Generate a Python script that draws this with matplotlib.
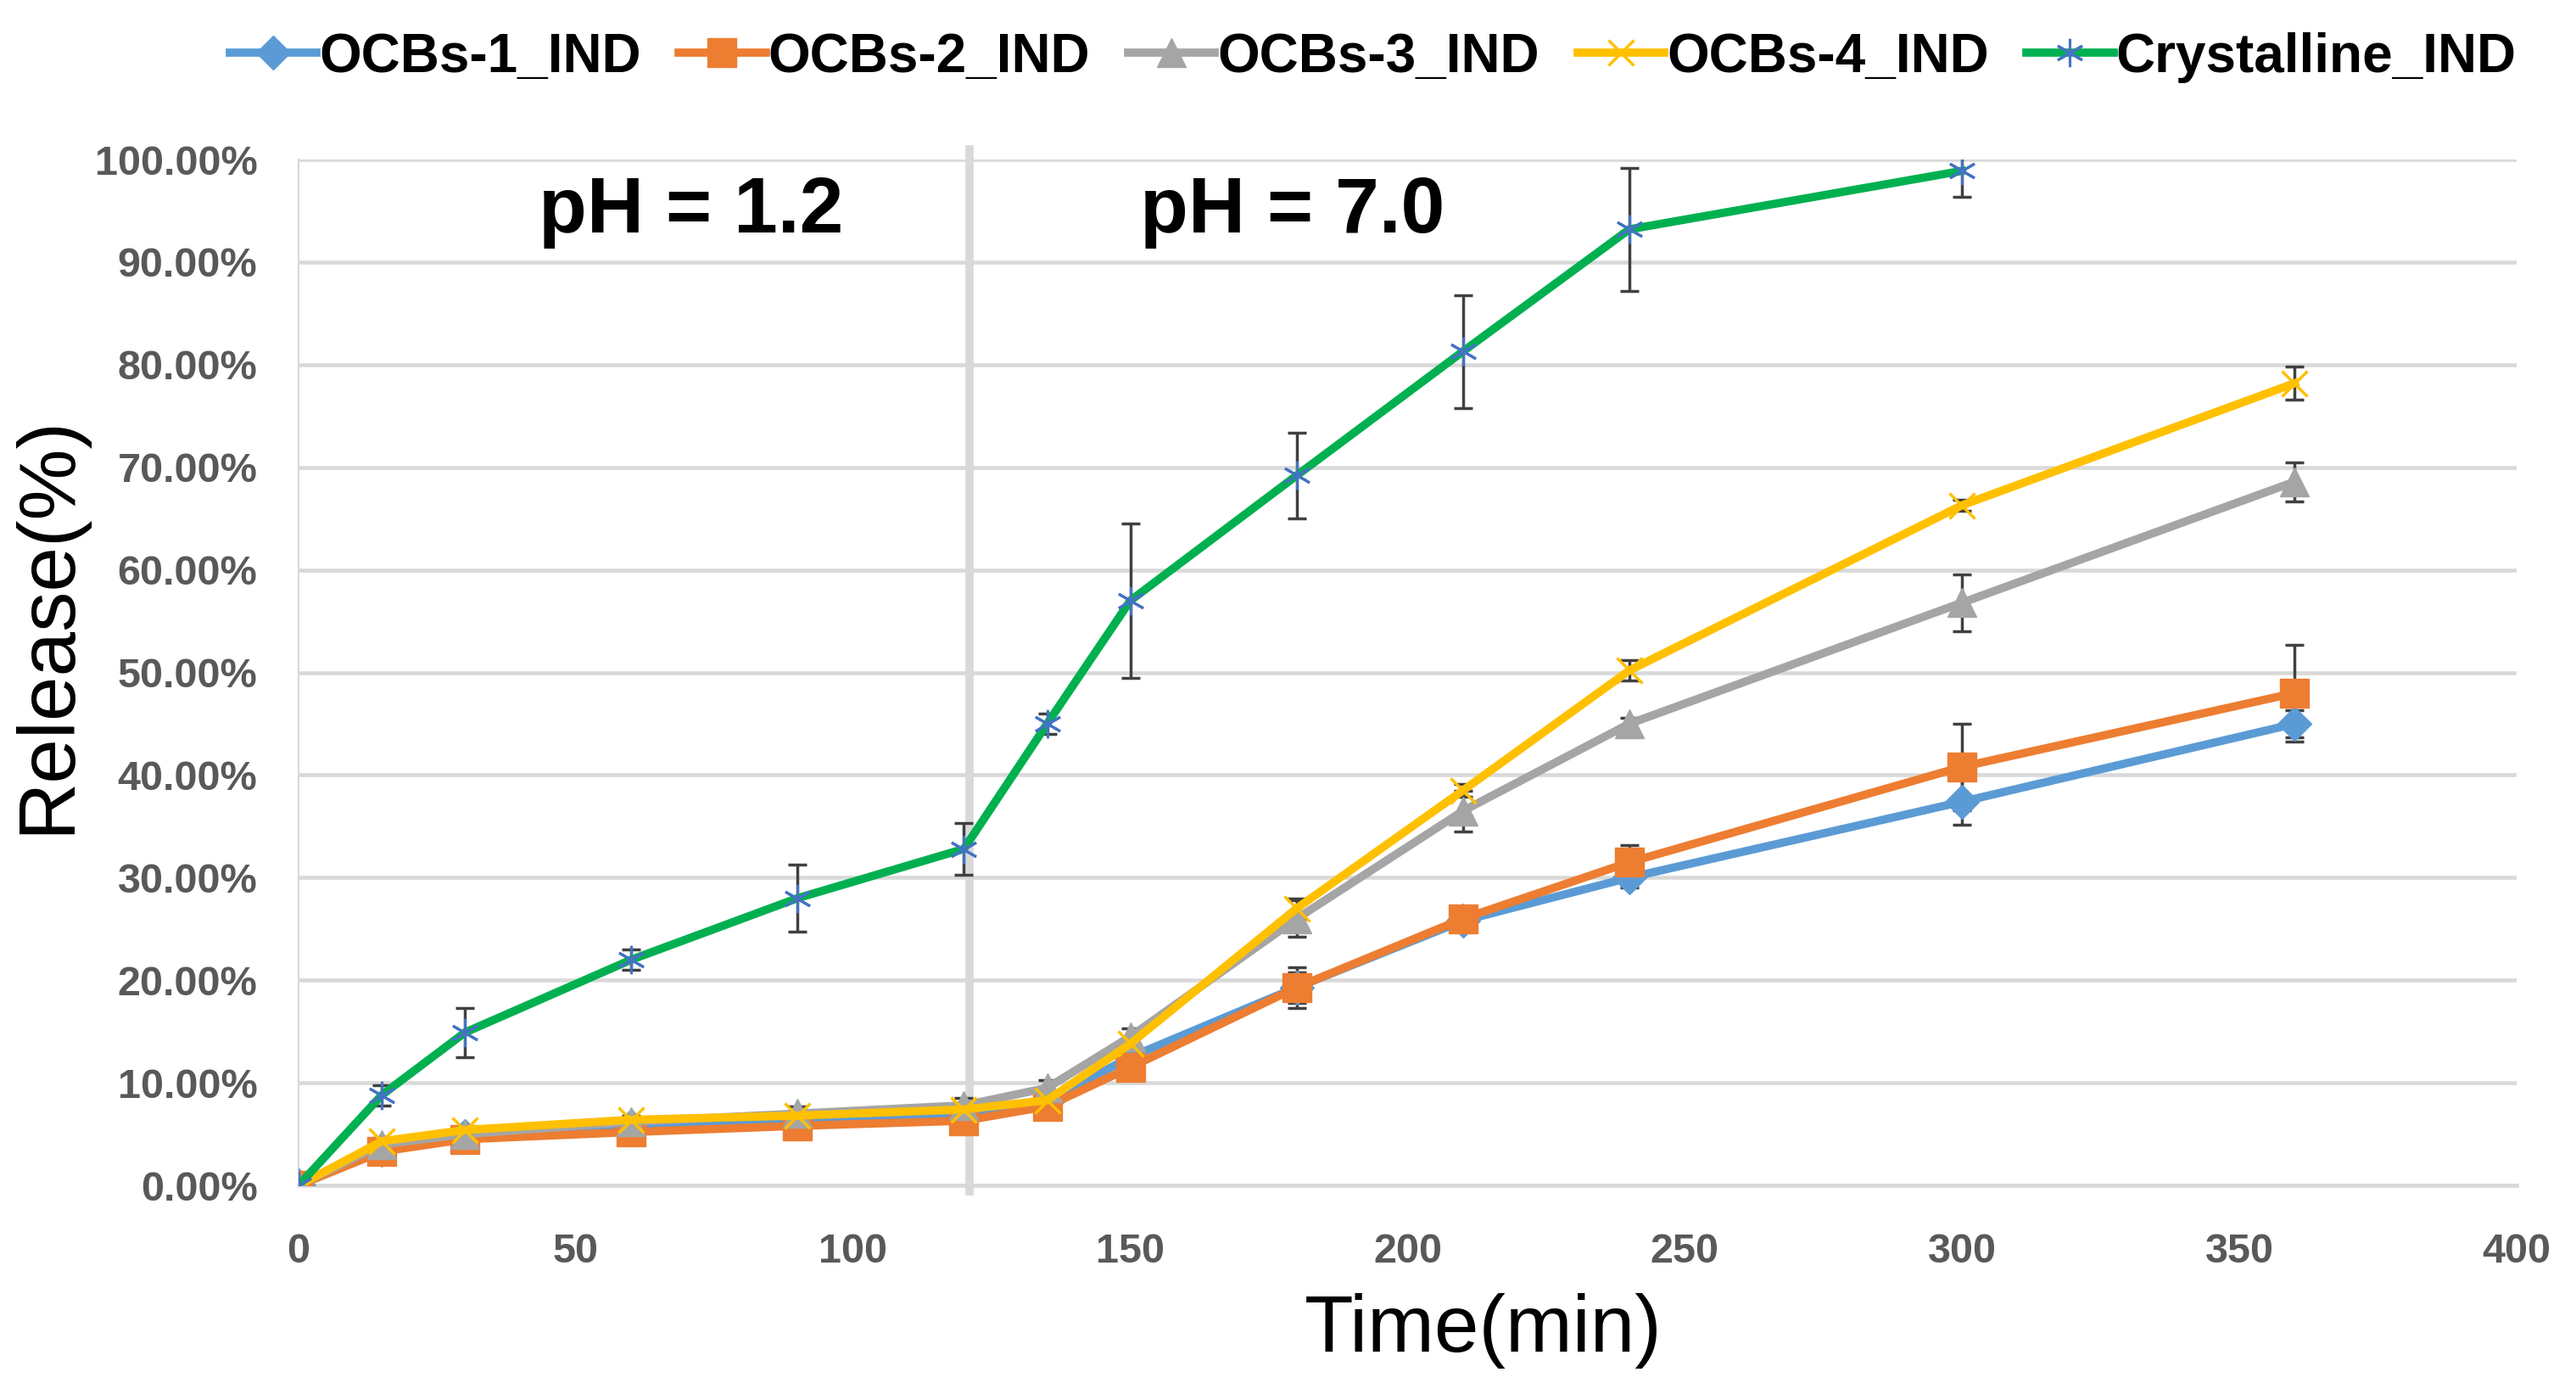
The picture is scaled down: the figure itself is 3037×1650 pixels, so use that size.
import numpy as np
import matplotlib
matplotlib.use("Agg")
import matplotlib.pyplot as plt

plt.rcParams['font.family'] = ['Liberation Sans', 'DejaVu Sans']

# sampling times (min)
time = [0, 15, 30, 60, 90, 120, 135, 150, 180, 210, 240, 300, 360]
time_cryst = [0, 15, 30, 60, 90, 120, 135, 150, 180, 210, 240, 300]

# cumulative release (%) and error bars
ocbs1 = [0, 3.5, 4.8, 5.8, 6.3, 7.0, 8.2, 12.5, 19.3, 25.8, 30.0, 37.4, 45.0]
err1 = [0, 0.2, 0.2, 0.2, 0.2, 0.2, 0.3, 0.6, 2.0, 0.8, 1.0, 2.2, 1.3]
ocbs2 = [0, 3.3, 4.5, 5.2, 5.8, 6.3, 7.7, 11.5, 19.3, 26.0, 31.5, 40.8, 48.0]
err2 = [0, 0.2, 0.2, 0.2, 0.2, 0.2, 0.3, 0.6, 1.5, 0.8, 1.7, 4.2, 4.7]
ocbs3 = [0, 4.0, 5.0, 6.2, 7.0, 7.8, 9.5, 14.5, 26.0, 36.5, 45.0, 56.8, 68.6]
err3 = [0, 0.6, 0.6, 0.6, 0.7, 0.7, 0.8, 0.8, 1.8, 2.0, 0.6, 2.8, 1.9]
ocbs4 = [0, 4.3, 5.4, 6.4, 6.8, 7.4, 8.3, 13.8, 27.0, 38.5, 50.2, 66.3, 78.2]
err4 = [0, 0.2, 0.2, 0.2, 0.2, 0.2, 0.2, 0.4, 1.0, 0.6, 1.0, 0.5, 1.6]
cryst = [0, 8.8, 14.9, 22.0, 28.0, 32.8, 45.0, 57.0, 69.2, 81.3, 93.2, 98.9]
errc = [0, 1.0, 2.4, 1.0, 3.3, 2.5, 1.0, 7.5, 4.2, 5.5, 6.0, 2.5]

xticks = [0, 50, 100, 150, 200, 250, 300, 350, 400]
yticks = [0, 10, 20, 30, 40, 50, 60, 70, 80, 90, 100]

fig = plt.figure(figsize=(30.37, 16.5), dpi=100)
ax = fig.add_axes([0.1159, 0.1533, 0.861, 0.7327])

series = [
    ("OCBs-1_IND", time, ocbs1, err1, "#5B9BD5", "#5B9BD5", "D", 20, 1),
    ("OCBs-2_IND", time, ocbs2, err2, "#ED7D31", "#ED7D31", "s", 25, 1),
    ("OCBs-3_IND", time, ocbs3, err3, "#A5A5A5", "#A5A5A5", "^", 24, 1),
    ("OCBs-4_IND", time, ocbs4, err4, "#FFC000", "#FFC000", "x", 21, 2.5),
    ("Crystalline_IND", time_cryst, cryst, errc, "#00B050", "#4472C4", (6, 2, 0), 24, 2.2),
]

for name, t, y, e, col, mcol, mk, ms, mew in series:
    ax.plot(t, y, color=col, lw=7, marker=mk, markersize=ms,
            markerfacecolor=mcol, markeredgecolor=mcol, markeredgewidth=mew,
            label=name, zorder=3)
    ax.errorbar(t, y, yerr=e, fmt='none', ecolor="#404040", elinewidth=2.5,
                capsize=8, capthick=2.5, zorder=2.8)

# pH switch line
ax.axvline(121, ymin=-0.006, ymax=1.01, color="#D9D9D9", lw=7, zorder=2, clip_on=False)
ax.text(70.8, 94.9, "pH = 1.2", fontsize=67, fontweight='bold', ha='center', va='center')
ax.text(179.3, 94.9, "pH = 7.0", fontsize=67, fontweight='bold', ha='center', va='center')

ax.set_xlim(0, 400)
ax.set_ylim(0, 100)
ax.set_xticks(xticks)
ax.set_yticks(yticks)
ax.set_yticklabels(["%.2f%%" % v for v in yticks])
ax.tick_params(axis='both', length=0, labelsize=35, labelcolor="#595959")
ax.tick_params(axis='x', pad=40)
ax.tick_params(axis='y', pad=35)
for lab in ax.get_xticklabels() + ax.get_yticklabels():
    lab.set_fontweight('bold')

ax.yaxis.grid(True, color="#D9D9D9", lw=3.3)
ax.set_axisbelow(True)
for s in ['top', 'right']:
    ax.spines[s].set_visible(False)
ax.spines['left'].set_color("#D9D9D9")
ax.spines['left'].set_linewidth(1.5)
ax.spines['bottom'].set_color("#D9D9D9")
ax.spines['bottom'].set_linewidth(3.3)

ax.set_xlabel("Time(min)", fontsize=68)
ax.xaxis.set_label_coords(0.534, -0.105)
ax.set_ylabel("Release(%)", fontsize=68)
ax.yaxis.set_label_coords(-0.096, 0.547)

fig.legend(loc='center', bbox_to_anchor=(0.533, 0.959), ncol=5, frameon=False,
           prop={'size': 46, 'weight': 'bold'}, handlelength=1.6,
           handletextpad=0.05, columnspacing=0.7)

fig.savefig("out.png", dpi=100)
